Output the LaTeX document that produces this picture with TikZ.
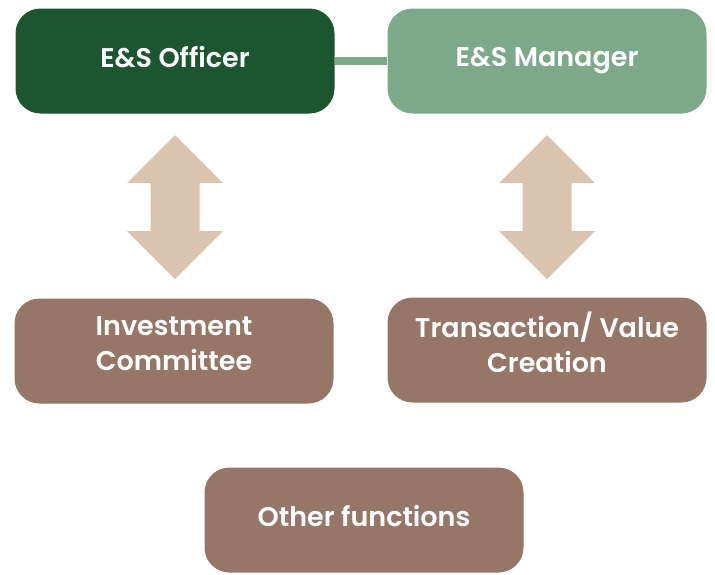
\documentclass[tikz,border=0pt]{standalone}
\usepackage{fontspec}
\setmainfont{Poppins}[BoldFont={Poppins SemiBold}]
\usetikzlibrary{calc}

\definecolor{darkgreen}{HTML}{1C5630}
\definecolor{lightgreen}{HTML}{7BA98A}
\definecolor{taupe}{HTML}{967666}
\definecolor{sand}{HTML}{DBC4AF}

\begin{document}
\begin{tikzpicture}[x=1pt,y=-1pt]
        \useasboundingbox (0,0) rectangle (715,574);
        \begin{scope}[every node/.style={rectangle,rounded corners=25pt,minimum width=319pt,minimum height=105pt,
                text=white,align=center,text depth=9pt,font=\fontsize{27}{35}\selectfont\bfseries}]
            \node[fill=darkgreen] (ofc) at (175,61) {E\&S Officer};
            \node[fill=lightgreen] (mgr) at (547,61) {E\&S Manager};

            \node[fill=taupe,text depth=15pt] (inv) at (174,351) {Investment\\Committee};
            \node[fill=taupe,text depth=15pt] (trn) at (547,350) {Transaction/ Value\\Creation};

            \node[fill=taupe] (oth) at (364,520) {Other functions};
        \end{scope}
        \begin{scope}[every path/.style={}]
            \path [draw=lightgreen,line width=8pt] (ofc.east) -- (mgr.west);

            \fill [sand] ($(ofc.south)+(0,21.5)$) -- ++(48,48) -- ++(-23.5,0) -- ++(0,48) -- ++(23.5,0)
                -- ++(-48,48) -- ++(-48,-48) -- ++(23.5,0) -- ++(0,-48) -- ++(-23.5,0) -- cycle;
            \fill [sand] ($(mgr.south)+(0,21.5)$) -- ++(48,48) -- ++(-23.5,0) -- ++(0,48) -- ++(23.5,0)
                -- ++(-48,48) -- ++(-48,-48) -- ++(23.5,0) -- ++(0,-48) -- ++(-23.5,0) -- cycle;
        \end{scope}
    \end{tikzpicture}
\end{document}
